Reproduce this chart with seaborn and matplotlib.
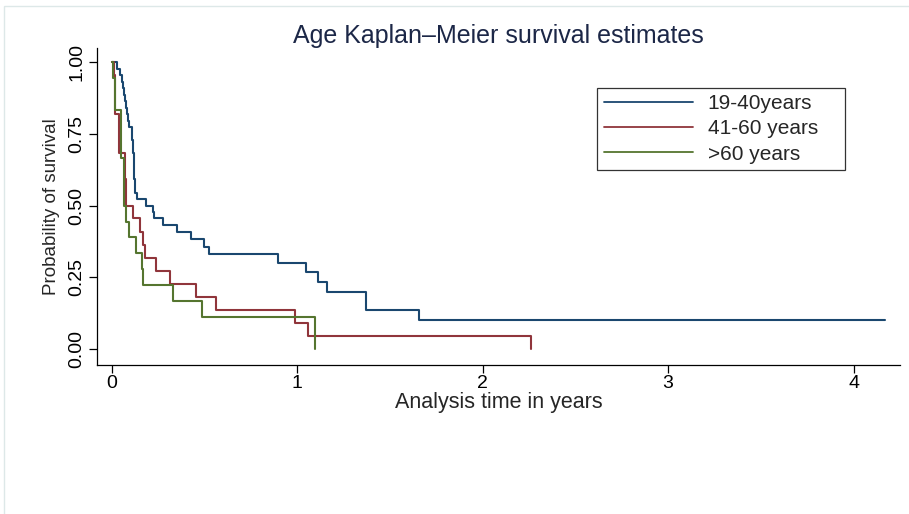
import matplotlib
matplotlib.use("Agg")
import matplotlib.pyplot as plt
import seaborn as sns
import pandas as pd
from matplotlib.patches import Rectangle

# Kaplan-Meier step estimates by age group (time in years, survival after each step)
groups = ["19-40years", "41-60 years", ">60 years"]

time_19_40 = [0.0, 0.027, 0.045, 0.056, 0.059, 0.066, 0.072, 0.075, 0.084, 0.088, 0.095,
              0.108, 0.111, 0.115, 0.117, 0.119, 0.121, 0.122, 0.123, 0.125, 0.128,
              0.135, 0.183, 0.221, 0.230, 0.278, 0.354, 0.426, 0.498, 0.526, 0.895,
              1.046, 1.112, 1.159, 1.371, 1.657, 4.17]
surv_19_40 = [1.0, 0.977, 0.955, 0.932, 0.909, 0.886, 0.864, 0.841, 0.818, 0.795, 0.773,
              0.750, 0.727, 0.705, 0.682, 0.659, 0.636, 0.614, 0.591, 0.568, 0.545,
              0.523, 0.500, 0.477, 0.455, 0.432, 0.409, 0.383, 0.357, 0.331, 0.300,
              0.268, 0.234, 0.200, 0.135, 0.102, 0.102]

time_41_60 = [0.0, 0.010, 0.016, 0.039, 0.072, 0.080, 0.116, 0.153, 0.167, 0.180, 0.237,
              0.314, 0.453, 0.561, 0.988, 1.057, 2.26]
surv_41_60 = [1.0, 0.955, 0.818, 0.682, 0.591, 0.500, 0.455, 0.409, 0.364, 0.318, 0.273,
              0.227, 0.182, 0.136, 0.091, 0.045, 0.0]

time_60 = [0.0, 0.005, 0.018, 0.049, 0.068, 0.077, 0.095, 0.131, 0.165, 0.170, 0.332,
           0.488, 1.098]
surv_60 = [1.0, 0.944, 0.833, 0.667, 0.500, 0.444, 0.389, 0.333, 0.278, 0.222, 0.167,
           0.111, 0.0]

x_ticks = [0, 1, 2, 3, 4]
y_ticks = [0.0, 0.25, 0.50, 0.75, 1.00]
y_tick_labels = ["0.00", "0.25", "0.50", "0.75", "1.00"]

colors = ["#1a476f", "#90353b", "#55752f"]

df = pd.concat([
    pd.DataFrame({"time": time_19_40, "surv": surv_19_40, "group": groups[0]}),
    pd.DataFrame({"time": time_41_60, "surv": surv_41_60, "group": groups[1]}),
    pd.DataFrame({"time": time_60, "surv": surv_60, "group": groups[2]}),
], ignore_index=True)

sns.set_theme(style="ticks")
plt.rcParams["font.family"] = ["Liberation Sans", "DejaVu Sans"]

fig = plt.figure(figsize=(9.09, 5.14), dpi=100)
ax = fig.add_axes([97 / 909, 1 - 365 / 514, (900 - 97) / 909, (365 - 48) / 514])

sns.lineplot(data=df, x="time", y="surv", hue="group", hue_order=groups,
             palette=colors, estimator=None, drawstyle="steps-post",
             linewidth=1.5, ax=ax, legend=False)

ax.set_xlim(-0.079, 4.25)
ax.set_ylim(-0.0557, 1.049)
ax.set_xticks(x_ticks)
ax.set_xticklabels([str(t) for t in x_ticks])
ax.set_yticks(y_ticks)
ax.set_yticklabels(y_tick_labels, rotation=90, va="center")
ax.tick_params(axis="both", direction="out", length=6, width=0.9, colors="black",
               labelsize=14)
ax.tick_params(axis="x", pad=1.5)
ax.tick_params(axis="y", pad=2.5)
for side in ["top", "right"]:
    ax.spines[side].set_visible(False)
for side in ["left", "bottom"]:
    ax.spines[side].set_linewidth(0.9)
    ax.spines[side].set_color("black")

ax.set_xlabel("Analysis time in years", fontsize=15.5, labelpad=0)
ax.set_ylabel("Probability of survival", fontsize=13.5, labelpad=6)
ax.set_title("Age Kaplan\u2013Meier survival estimates", fontsize=18,
             color="#1c2747", pad=3)

handles = [plt.Line2D([], [], color=c, linewidth=1.3) for c in colors]
leg = ax.legend(handles, groups, loc="upper left",
                bbox_to_anchor=(0.623, 0.5, 0.309, 0.374), mode="expand",
                fontsize=15, frameon=True, fancybox=False, handlelength=4.3,
                handletextpad=0.7, labelspacing=0.3, borderpad=0.3,
                borderaxespad=0.0)
leg.get_frame().set_edgecolor("black")
leg.get_frame().set_linewidth(0.9)

# thin outer frame of the graph region
fig.patches.append(Rectangle((4 / 909, -0.1), 1.2, 1 - 6 / 514 + 0.1,
                             transform=fig.transFigure, fill=False,
                             edgecolor="#dde8e8", linewidth=1.0))

fig.savefig("out.png", dpi=100)
